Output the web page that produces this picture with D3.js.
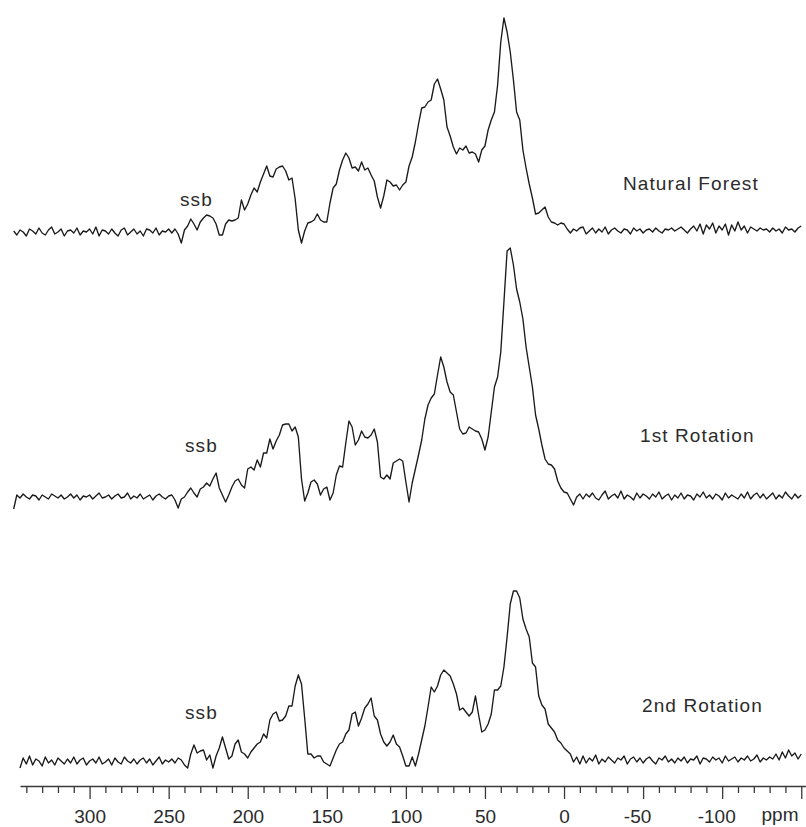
<!DOCTYPE html>
<html>
<head>
<meta charset="utf-8">
<script src="https://cdn.jsdelivr.net/npm/d3@7"></script>
<style>
  body { margin: 0; background: #fff; }
  text { font-family: "Liberation Sans", Arial, Helvetica, sans-serif; fill: #2b2b2b; }
</style>
</head>
<body>
<div id="graph"></div>
<script>
// chemical shift grid: first point at 348 ppm, one point every 2 ppm going upfield
let ppmStart = 348;
let ppmStep = 2;

// intensities (a.u.), 10 points per row
let naturalForest = [
  1, -3, 2, 0, -4, 3, 1, -2, 4, -1,          // 348
  -3, 2, 5, -2, 0, 3, -4, 1, 2, -1,          // 328
  4, -3, 1, 0, 3, -2, 5, -4, 2, 1,           // 308
  -2, 3, -1, -4, 2, 4, -3, 0, 3, -2,         // 288
  1, -4, 3, 2, -1, 4, -3, 1, 0, 3,           // 268
  -1, 3, -2, -11, 2, 6, 13, 8, 2, 10,        // 248
  14, 17, 16, 14, 8, -3, -3, 8, 12, 11,      // 228
  12, 14, 32, 22, 28, 37, 44, 40, 50, 58,    // 208
  66, 56, 55, 63, 65, 66, 61, 52, 54, 33,    // 188
  2, -11, 1, 9, 10, 12, 18, 12, 10, 10,      // 168
  29, 44, 48, 62, 72, 79, 74, 64, 65, 61,    // 148
  70, 62, 64, 57, 51, 35, 24, 36, 52, 50,    // 128
  46, 47, 42, 47, 50, 66, 75, 90, 108, 124,  // 108
  125, 130, 132, 148, 153, 143, 132, 105, 96, 85, // 88
  78, 84, 82, 86, 79, 80, 78, 70, 82, 86,    // 68
  102, 112, 120, 147, 190, 214, 200, 180, 152, 120, // 48
  112, 82, 64, 48, 34, 18, 19, 22, 25, 15,   // 28
  10, 9, 7, 9, 8, 3, -1, 3, 1, 4,            // 8
  5, -2, 1, 4, -1, 3, 0, 5, -2, 2,           // -12
  4, 1, -1, 3, 2, -2, 4, 1, 3, -1,           // -32
  2, 3, 0, 4, 1, -1, 3, 2, 4, 1,             // -52
  3, 5, 2, -1, 3, 6, 1, 8, -2, 7,            // -72
  3, 9, -1, 6, 2, 8, -3, 7, 1, 10,           // -92
  2, 6, -1, 5, 3, 1, 4, 2, 3, 0,             // -112
  4, 1, 3, -1, 5, 2, 3, 0, 4, 6              // -132
];

let firstRotation = [
  -12, 2, -1, 3, 0, -2, 2, 1, -3, 2,
  0, -2, 3, 1, -1, 2, -2, 0, 3, -1,
  2, -3, 1, 0, 2, -2, 1, 4, -1, 0,
  2, -2, 1, 3, -1, 0, 4, -2, 1, -1,
  3, -2, 0, 2, -3, 1, 3, 0, -2, 1,
  2, -3, -11, -2, 0, 5, 9, 4, 0, 8,
  10, 14, 11, 18, 24, 9, 2, -5, 2, 10,
  16, 18, 12, 9, 28, 30, 27, 37, 30, 44,
  44, 58, 48, 56, 62, 72, 73, 73, 66, 70,
  60, 18, -4, 4, 15, 17, 13, 2, 8, 10,
  -3, 4, 22, 31, 30, 54, 76, 70, 52, 57,
  66, 60, 59, 62, 68, 55, 20, 18, 22, 18,
  34, 36, 38, 36, 15, -5, 14, 28, 42, 57,
  78, 92, 99, 103, 122, 140, 130, 115, 105, 102,
  85, 68, 63, 64, 70, 68, 66, 65, 58, 47,
  60, 85, 110, 120, 145, 195, 246, 249, 232, 208,
  195, 178, 150, 130, 110, 82, 68, 52, 38, 33,
  32, 28, 16, 9, 5, 4, -2, -8, 0, 3,
  -2, 3, 0, 4, -1, -3, 2, 6, -2, 1,
  3, -1, 6, -2, 2, 0, -3, 4, -1, 3,
  1, -2, 3, 0, 5, -2, 1, 3, -3, 2,
  -1, 4, -2, 2, 1, -3, 3, 0, 5, -1,
  2, -2, 3, 1, -3, 4, -1, 2, 0, -2,
  3, -1, 5, -2, 2, 4, -1, 3, -2, 1,
  4, -2, 2, -1, 5, 1, -2, 3, -1, 2
];

let secondRotation = [
  null, null, -6, 4, -2, 6, -3, 3, 1, -4,
  5, -1, 2, -3, 4, 1, -2, 3, -1, 5,
  -2, 2, 4, -3, 1, 3, -1, 5, -2, 0,
  3, -3, 4, 0, -2, 5, 1, -1, 3, -2,
  2, 4, -1, 3, -3, 1, 5, -2, 2, 0,
  3, -1, 4, 2, -3, -6, 8, 17, 9, 11,
  12, 2, 7, -6, 6, 14, 25, 14, 3, 6,
  18, 22, 10, 8, 4, 10, 14, 18, 20, 28,
  24, 42, 48, 50, 41, 42, 46, 56, 56, 76,
  87, 78, 44, 8, 8, 4, 6, 6, 0, -2,
  -4, 4, 12, 18, 20, 28, 32, 48, 50, 36,
  44, 54, 58, 64, 46, 42, 28, 20, 16, 20,
  27, 18, 15, 6, -4, -4, 5, -4, 8, 22,
  36, 55, 75, 70, 76, 87, 92, 89, 86, 78,
  68, 52, 54, 50, 46, 50, 66, 47, 30, 32,
  38, 48, 72, 72, 76, 95, 125, 158, 171, 171,
  164, 143, 133, 125, 99, 95, 66, 57, 53, 38,
  34, 30, 22, 19, 14, 11, 8, 0, 5, -2,
  6, -1, 4, 1, 7, -2, 3, 0, 5, 2,
  -1, 4, 2, 6, -2, 3, 5, 0, 4, -1,
  3, 5, 1, -2, 4, 2, 6, 0, 3, -1,
  4, 1, 5, -1, 3, 2, 6, -2, 4, 3,
  0, 5, 2, 4, -1, 6, 1, 3, 5, 0,
  4, 2, 6, 1, 3, 7, 0, 4, 2, 5,
  3, 8, 2, 10, 4, 12, 6, 9, 3, 8
];

let traceNames = ["Natural Forest", "1st Rotation", "2nd Rotation"];
let sideBandLabel = "ssb";
let majorTicks = [300, 250, 200, 150, 100, 50, 0, -50, -100, -150];
let minorTicks = [340, 330, 320, 310, 290, 280, 270, 260, 240, 230, 220, 210,
  190, 180, 170, 160, 140, 130, 120, 110, 90, 80, 70, 60, 40, 30, 20, 10,
  -10, -20, -30, -40, -60, -70, -80, -90, -110, -120, -130, -140];
let unitLabel = "ppm";

let width = 806, height = 827;
let axisY = 786;

// where each spectrum sits on the page
let layout = [
  {values: naturalForest, base: 232, nameX: 623, nameY: 190, ssbX: 180, ssbY: 206},
  {values: firstRotation, base: 497, nameX: 640, nameY: 442, ssbX: 185, ssbY: 452},
  {values: secondRotation, base: 762, nameX: 642, nameY: 712, ssbX: 185, ssbY: 719}
];

let svg = d3.select("#graph")
    .append("svg")
    .attr("width", width)
    .attr("height", height);

let x = d3.scaleLinear()
    .domain([344, -153])
    .range([20, 806]);

let y = d3.scaleLinear()
    .domain([0, 250])
    .range([0, -250]);

let line = d3.line()
    .defined(d => d.v != null)
    .x(d => x(d.p))
    .y(d => y(d.v));

layout.forEach((t, k) => {
  let pts = t.values.map((v, i) => ({p: ppmStart - ppmStep * i, v: v}));

  let g = svg.append("g")
      .attr("transform", `translate(0, ${t.base})`);

  g.append("path")
      .datum(pts)
      .attr("fill", "none")
      .attr("stroke", "#1a1a1a")
      .attr("stroke-width", 1.35)
      .attr("stroke-linejoin", "round")
      .attr("d", line);

  svg.append("text")
      .attr("x", t.nameX)
      .attr("y", t.nameY)
      .style("font-size", "19px")
      .style("letter-spacing", "1.1px")
      .text(traceNames[k]);

  svg.append("text")
      .attr("x", t.ssbX)
      .attr("y", t.ssbY)
      .style("font-size", "19px")
      .style("letter-spacing", "1.1px")
      .text(sideBandLabel);
});

// ppm axis: long labelled ticks every 50, short ones every 10
let axisG = svg.append("g")
    .attr("transform", `translate(0, ${axisY})`);

axisG.append("g")
    .call(d3.axisBottom(x).tickValues(minorTicks).tickSize(7).tickSizeOuter(0).tickFormat(""))
    .call(g => g.select(".domain").remove());

let major = axisG.append("g")
    .call(d3.axisBottom(x)
      .tickValues(majorTicks)
      .tickSize(13)
      .tickSizeOuter(0)
      .tickPadding(11)
      .tickFormat(d => d === -150 ? "" : String(d)));

axisG.selectAll("line")
    .attr("stroke", "#3a3a3a")
    .attr("stroke-width", 1.3);

major.select(".domain")
    .attr("stroke", "#3a3a3a")
    .attr("stroke-width", 1.3);

major.selectAll("text")
    .style("font-size", "19px")
    .style("font-family", "\"Liberation Sans\", Arial, Helvetica, sans-serif")
    .attr("fill", "#2b2b2b")
    .attr("dx", d => d < 0 ? -6 : 0);

svg.append("text")
    .attr("x", 780)
    .attr("y", 821)
    .style("text-anchor", "middle")
    .style("font-size", "19px")
    .text(unitLabel);
</script>
</body>
</html>
